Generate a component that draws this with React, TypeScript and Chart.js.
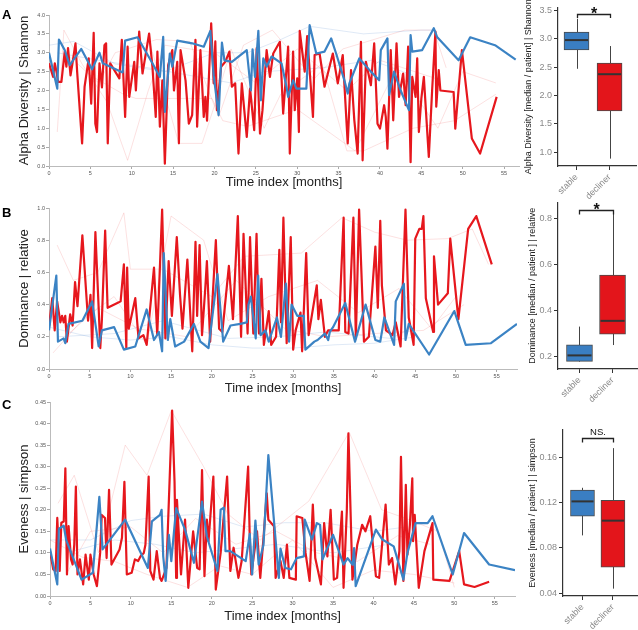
import React, { useEffect, useRef } from "react";
import { Chart, registerables } from "chart.js";

Chart.register(...registerables);
Chart.defaults.font.family = "'Liberation Sans', Arial, sans-serif";

type Pt = [number, number];

// ---------- tick labels ----------
const timeTicks = [0, 5, 10, 15, 20, 25, 30, 35, 40, 45, 50, 55];
const shannonTicks = [0, 0.5, 1, 1.5, 2, 2.5, 3, 3.5, 4];
const dominanceTicks = [0, 0.2, 0.4, 0.6, 0.8, 1.0];
const evenessTicks = [0, 0.05, 0.1, 0.15, 0.2, 0.25, 0.3, 0.35, 0.4, 0.45];
const groupLabels = ["stable", "decliner"];
const shannonBoxTicks = [1.0, 1.5, 2.0, 2.5, 3.0, 3.5];
const dominanceBoxTicks = [0.2, 0.4, 0.6, 0.8];
const evenessBoxTicks = [0.04, 0.08, 0.12, 0.16];

// ---------- A: Shannon ----------
const shannonStable: Pt[] = [[0,3.0],[1,2.05],[1.2,3.35],[1.9,3.07],[2.5,2.67],[3.9,3.1],[5.2,2.56],[6.1,3.0],[6.5,2.72],[8.9,2.48],[9.2,3.32],[10.7,3.41],[12.5,2.72],[13.4,2.36],[13.8,3.42],[14.0,1.43],[14.6,2.98],[14.9,2.63],[15.5,3.32],[17.3,3.25],[18.7,3.16],[19.5,3.58],[19.9,2.4],[20.5,1.35],[20.9,3.27],[21.2,2.8],[22.1,2.76],[23.9,3.07],[24.4,2.0],[24.6,3.09],[24.9,2.36],[25.3,3.58],[25.6,1.74],[25.9,2.85],[26.3,2.63],[26.9,2.9],[28.1,2.72],[28.7,2.1],[28.9,1.83],[29.5,2.27],[29.9,2.05],[31.1,2.05],[31.5,3.73],[32.3,2.98],[33.3,3.03],[34.1,3.38],[34.7,2.98],[35.7,2.27],[36.1,1.92],[36.3,2.19],[37.5,2.85],[38.9,2.5],[39.9,2.27],[40.1,3.07],[40.9,3.38],[41.1,1.88],[41.7,2.5],[42.5,2.0],[43.5,1.48],[43.7,3.47],[43.9,3.03],[45.1,3.07],[46.5,3.65],[46.9,3.42],[49.5,2.8],[50.9,3.41],[53.9,3.2],[56.4,2.82]];
const shannonDecliner: Pt[] = [[0,2.72],[0.5,2.36],[0.7,2.72],[0.9,2.5],[1.1,2.23],[1.5,2.23],[1.9,3.03],[2.1,2.63],[2.3,3.12],[2.6,2.4],[2.8,2.67],[3.2,3.25],[3.4,2.5],[4.0,0.6],[4.3,2.1],[4.8,2.85],[5.1,1.65],[5.4,3.53],[5.6,1.12],[5.8,0.9],[6.1,2.72],[6.3,2.3],[6.4,2.08],[6.7,3.2],[6.9,3.25],[7.1,0.6],[7.4,2.72],[8.5,2.32],[8.8,3.34],[9.2,1.3],[9.5,3.16],[9.7,1.83],[10.3,2.76],[10.5,2.0],[10.9,3.56],[11.3,2.45],[12.1,3.51],[12.5,2.63],[12.9,1.3],[13.1,3.03],[13.4,1.04],[13.7,2.27],[14.0,0.06],[14.4,2.67],[14.9,3.07],[15.1,2.0],[15.5,2.76],[15.7,0.6],[15.9,3.07],[16.5,2.27],[16.9,1.12],[17.3,1.35],[17.7,3.34],[17.9,1.04],[18.3,3.07],[18.7,1.3],[18.9,1.83],[19.1,1.2],[19.6,3.78],[19.9,2.19],[20.1,3.3],[20.3,1.48],[20.8,2.63],[21.3,2.76],[21.8,3.03],[22.1,2.1],[22.5,2.19],[22.9,0.33],[23.3,2.19],[23.9,0.77],[24.3,2.05],[24.8,0.95],[25.1,3.12],[25.5,0.86],[25.8,1.48],[26.3,3.07],[26.7,2.36],[27.1,2.98],[27.9,3.29],[28.3,1.39],[28.9,3.16],[29.1,0.33],[29.5,3.03],[29.7,1.48],[30.0,2.32],[30.2,0.9],[30.3,3.58],[30.9,2.5],[31.2,3.44],[31.7,1.92],[31.9,1.3],[32.1,2.94],[32.7,2.98],[33.3,2.1],[34.3,2.98],[34.9,2.19],[35.5,2.94],[36.1,0.6],[36.3,1.57],[36.5,2.54],[36.9,1.21],[37.3,0.33],[37.7,3.29],[37.9,0.15],[38.3,2.76],[38.9,2.14],[39.3,3.25],[39.7,1.12],[40.0,0.99],[40.5,1.61],[40.7,1.3],[40.9,0.46],[41.3,3.07],[41.6,1.21],[42.0,3.25],[42.3,1.83],[42.8,2.45],[43.1,1.61],[43.4,3.16],[43.7,0.1],[43.9,2.36],[44.3,1.83],[44.5,2.85],[44.7,0.9],[45.0,1.79],[45.3,2.36],[45.9,0.24],[46.3,2.0],[46.7,3.56],[46.8,1.57],[47.1,2.54],[47.3,2.0],[48.9,1.96],[49.1,0.99],[49.9,3.07],[51.1,0.73],[52.1,0.33],[54.1,1.83]];
const shannonFaintRed: Pt[][] = [
  [[1,0.9],[1.8,3.6],[4,2.7],[7,1.7],[9.5,0.15],[12,2.0],[14,3.2],[20,3.0],[25,2.2],[30,3.1],[36,2.0],[40,2.8],[47,2.3]],
  [[5,2.4],[9,1.9],[10.5,1.79],[19.7,1.79],[21,1.2],[24,1.05],[30,1.5],[37,0.4],[42,2.6],[47,1.0],[50,2.5],[54,2.2]],
  [[12,3.4],[15.7,0.6],[18.5,0.6],[20,1.6],[22,3.1],[26,1.0],[28,1.9],[33,2.7],[36,0.4],[38,0.4],[44,1.0],[49,1.2],[54,1.9]],
  [[2,3.0],[6,2.2],[8,3.0],[13,3.35],[17,3.3],[20.5,1.3],[23.5,3.2],[27,3.6],[32,2.3],[35.5,3.1],[43,3.6],[46.5,3.6],[48,2.6]],
];
const shannonFaintBlue: Pt[][] = [
  [[0,3.2],[3,3.3],[8,2.7],[14,2.5],[20,3.0],[24,3.0],[28,3.35],[31.5,3.7],[38,3.5],[45,3.6],[46.5,3.6]],
  [[1,3.0],[6,2.8],[12,2.6],[17,2.4],[22,2.2],[26,2.5],[33,2.6],[39,2.8],[44,2.4]],
];

// ---------- B: Dominance ----------
const dominanceStable: Pt[] = [[0,0.24],[0.9,0.58],[1.1,0.17],[1.8,0.19],[2.0,0.16],[2.4,0.28],[4.1,0.30],[5.3,0.42],[6.1,0.14],[6.5,0.24],[8.0,0.26],[9.2,0.12],[10.6,0.14],[12.0,0.37],[12.9,0.18],[13.5,0.23],[13.9,0.11],[14.1,0.72],[14.6,0.18],[14.9,0.31],[15.5,0.14],[16.6,0.17],[17.8,0.28],[18.6,0.17],[19.6,0.13],[20.7,0.59],[21.4,0.17],[22.3,0.27],[23.5,0.28],[24.3,0.29],[24.5,0.40],[24.8,0.45],[25.4,0.19],[25.7,0.58],[26.0,0.21],[26.6,0.24],[27.0,0.17],[28.0,0.32],[28.5,0.20],[29.1,0.53],[29.5,0.17],[29.8,0.40],[30.5,0.33],[31.3,0.33],[31.5,0.12],[32.6,0.17],[33.0,0.18],[33.9,0.22],[34.3,0.18],[34.5,0.23],[34.9,0.26],[36.4,0.41],[37.6,0.17],[38.9,0.40],[40.1,0.18],[40.7,0.17],[41.2,0.32],[42.4,0.15],[42.6,0.42],[43.6,0.53],[43.8,0.18],[44.2,0.28],[46.7,0.09],[49.8,0.36],[51.2,0.15],[54.3,0.16],[57.5,0.28]];
const dominanceDecliner: Pt[] = [[0,0.26],[0.4,0.44],[0.7,0.24],[1.0,0.42],[1.4,0.29],[1.6,0.33],[1.8,0.29],[2.0,0.33],[2.2,0.17],[2.6,0.34],[2.9,0.27],[3.2,0.54],[3.5,0.39],[4.1,0.83],[4.8,0.30],[5.1,0.46],[5.3,0.13],[5.7,0.85],[6.1,0.38],[6.3,0.13],[6.5,0.31],[6.9,0.86],[7.2,0.38],[8.4,0.41],[8.8,0.42],[9.2,0.65],[9.5,0.13],[9.6,0.63],[9.8,0.25],[10.6,0.44],[11.0,0.19],[11.6,0.21],[12.0,0.15],[12.9,0.63],[13.3,0.21],[13.9,0.99],[14.3,0.19],[14.7,0.67],[15.1,0.33],[15.7,0.82],[16.1,0.46],[16.4,0.25],[17.0,0.68],[17.6,0.11],[18.0,0.79],[18.2,0.33],[18.5,0.77],[18.8,0.21],[19.2,0.50],[19.4,0.67],[19.8,0.17],[20.5,0.80],[20.9,0.25],[21.3,0.23],[22.1,0.64],[22.6,0.31],[23.2,0.95],[23.6,0.20],[23.9,0.84],[24.4,0.22],[24.7,0.82],[25.1,0.22],[25.5,0.84],[25.8,0.22],[26.1,0.56],[26.4,0.15],[27.0,0.36],[27.3,0.15],[27.9,0.20],[28.3,0.74],[28.5,0.29],[28.8,0.94],[29.2,0.16],[29.7,0.82],[30.0,0.12],[30.3,0.24],[30.9,0.35],[31.1,0.11],[31.6,0.72],[31.9,0.21],[32.9,0.52],[33.1,0.31],[33.4,0.43],[33.9,0.20],[34.3,0.24],[35.6,0.24],[36.2,0.94],[36.4,0.23],[36.8,0.22],[37.4,0.94],[37.7,0.19],[38.1,0.99],[38.7,0.17],[39.3,0.20],[40.1,0.76],[40.4,0.38],[40.7,0.92],[40.9,0.52],[41.4,0.24],[42.2,0.21],[42.6,0.29],[43.2,0.14],[43.8,0.99],[44.2,0.32],[44.8,0.15],[45.0,0.81],[45.5,0.87],[45.8,0.87],[46.0,0.95],[46.3,0.44],[47.2,0.23],[47.3,0.70],[47.8,0.40],[49.0,0.47],[49.3,0.81],[50.3,0.31],[51.5,0.87],[52.5,0.95],[54.4,0.65]];
const dominanceFaintRed: Pt[][] = [
  [[1,0.77],[3,0.55],[6,0.6],[9.2,0.97],[10,0.62],[14,0.62],[20,0.45],[24,0.7],[31,0.72],[36,0.94],[40,0.85],[44,0.8],[49,0.81],[52,0.87],[54,0.65]],
  [[0.5,0.1],[4,0.3],[8,0.45],[12,0.15],[15,0.95],[19,0.8],[22,0.3],[27,0.45],[33,0.55],[38,0.35],[43,0.5],[47,0.25],[50,0.45]],
  [[2,0.2],[6,0.38],[11,0.25],[17,0.2],[23,0.55],[29,0.25],[34,0.2],[40,0.22],[46,0.24],[51,0.4]],
];
const dominanceFaintBlue: Pt[][] = [
  [[0,0.26],[5,0.2],[10,0.18],[15,0.2],[20,0.15],[25,0.13],[30,0.13],[35,0.15],[40,0.16],[45,0.2]],
  [[1,0.2],[8,0.22],[14,0.3],[22,0.19],[28,0.2],[34,0.23],[42,0.19],[44,0.24]],
];

// ---------- C: Eveness ----------
const evenessStable: Pt[] = [[0,0.11],[0.9,0.027],[1.1,0.156],[1.7,0.163],[2.0,0.13],[3.9,0.038],[5.3,0.054],[6.1,0.23],[6.5,0.108],[9.3,0.177],[12.1,0.065],[12.6,0.173],[13.6,0.188],[13.8,0.2],[14.0,0.092],[14.3,0.035],[14.7,0.142],[15.0,0.081],[15.6,0.204],[16.7,0.154],[17.8,0.077],[18.8,0.219],[19.4,0.138],[20.7,0.058],[21.1,0.2],[21.5,0.205],[21.7,0.104],[22.3,0.104],[24.2,0.081],[24.7,0.144],[25.0,0.05],[25.4,0.175],[25.8,0.073],[26.4,0.119],[27.0,0.327],[28.3,0.042],[28.5,0.11],[29.1,0.065],[29.8,0.062],[30.5,0.088],[31.4,0.092],[31.5,0.177],[32.4,0.131],[33.0,0.169],[33.4,0.165],[33.7,0.085],[35.0,0.142],[36.3,0.073],[36.8,0.088],[37.4,0.073],[37.6,0.111],[37.8,0.023],[40.3,0.154],[41.1,0.131],[42.5,0.115],[43.7,0.038],[44.2,0.1],[45.2,0.169],[46.7,0.169],[47.3,0.185],[49.8,0.05],[51.2,0.146],[54.3,0.073],[57.5,0.06]];
const evenessDecliner: Pt[] = [[0,0.104],[0.4,0.062],[0.7,0.058],[0.9,0.181],[1.2,0.058],[1.4,0.17],[1.7,0.173],[1.9,0.296],[2.1,0.05],[2.3,0.162],[2.6,0.085],[2.8,0.073],[3.0,0.119],[3.2,0.254],[3.4,0.05],[3.7,0.085],[4.1,0.027],[4.4,0.096],[4.8,0.038],[5.0,0.096],[5.4,0.05],[5.8,0.023],[6.2,0.1],[6.4,0.188],[6.8,0.181],[7.0,0.088],[7.3,0.246],[7.6,0.073],[8.6,0.108],[8.9,0.135],[9.2,0.265],[9.5,0.05],[10.1,0.054],[10.5,0.085],[10.9,0.081],[11.2,0.092],[11.6,0.1],[11.8,0.119],[12.2,0.277],[12.4,0.058],[12.8,0.038],[13.2,0.104],[13.6,0.042],[13.8,0.035],[14.4,0.065],[15.1,0.43],[15.4,0.265],[15.6,0.042],[15.7,0.223],[16.2,0.05],[16.7,0.177],[17.1,0.019],[17.7,0.15],[18.2,0.065],[18.5,0.062],[18.8,0.292],[19.1,0.046],[19.4,0.177],[19.6,0.127],[20.2,0.277],[20.5,0.015],[21.1,0.1],[21.9,0.277],[22.3,0.058],[22.7,0.112],[23.3,0.042],[23.7,0.081],[24.5,0.3],[24.7,0.135],[24.9,0.05],[25.6,0.15],[26.0,0.042],[26.4,0.135],[26.8,0.238],[27.0,0.177],[27.7,0.162],[27.9,0.042],[28.5,0.081],[28.9,0.042],[29.3,0.119],[29.6,0.042],[30.4,0.038],[30.5,0.185],[31.2,0.181],[31.6,0.1],[32.1,0.035],[32.5,0.212],[32.8,0.088],[33.5,0.027],[33.9,0.169],[34.3,0.092],[34.7,0.2],[35.1,0.038],[35.5,0.042],[36.1,0.196],[36.3,0.019],[36.7,0.196],[36.9,0.377],[37.4,0.038],[38.0,0.119],[38.6,0.165],[39.0,0.15],[39.6,0.185],[39.9,0.123],[40.3,0.046],[40.7,0.042],[41.5,0.212],[41.9,0.073],[42.3,0.088],[42.7,0.027],[43.2,0.104],[43.4,0.323],[43.7,0.035],[44.0,0.258],[44.2,0.096],[44.5,0.165],[44.8,0.273],[44.9,0.127],[45.1,0.188],[45.6,0.019],[46.3,0.104],[47.3,0.169],[47.4,0.038],[49.4,0.035],[50.6,0.104],[51.2,0.027],[52.5,0.021],[54.3,0.033]];
const evenessFaintRed: Pt[][] = [
  [[1,0.215],[3,0.28],[6,0.1],[9.3,0.35],[12,0.28],[15,0.43],[19,0.3],[22,0.19],[26,0.13],[32,0.22],[37,0.38],[41,0.2],[44,0.18],[48,0.15],[50,0.02]],
  [[0,0.13],[4,0.09],[8,0.08],[12,0.05],[17,0.02],[21,0.07],[25,0.05],[30,0.13],[35,0.02],[40,0.06],[45,0.05],[50,0.03]],
  [[2,0.05],[5,0.15],[10,0.16],[14,0.1],[18,0.18],[23,0.12],[28,0.15],[33,0.1],[38,0.08],[43,0.14],[47,0.12]],
];
const evenessFaintBlue: Pt[][] = [
  [[0,0.13],[5,0.13],[10,0.175],[14,0.185],[19,0.19],[24,0.16],[29,0.17],[34,0.17],[40,0.15],[44,0.16]],
  [[2,0.1],[8,0.13],[13,0.12],[18,0.1],[23,0.11],[28,0.12],[35,0.1],[42,0.12]],
];

// ---------- box stats: [low whisker, Q1, median, Q3, high whisker] ----------
const shannonBoxStable = [2.47, 2.8, 2.975, 3.115, 3.35];
const shannonBoxDecliner = [0.89, 1.73, 2.375, 2.57, 2.87];
const dominanceBoxStable = [0.178, 0.179, 0.205, 0.251, 0.33];
const dominanceBoxDecliner = [0.25, 0.297, 0.355, 0.554, 0.835];
const evenessBoxStable = [0.091, 0.108, 0.121, 0.131, 0.133];
const evenessBoxDecliner = [0.044, 0.063, 0.104, 0.122, 0.168];

const BLUE = "#3b83c4";
const RED = "#e6171d";
const FAINT_RED = "rgba(235,80,80,0.22)";
const FAINT_BLUE = "rgba(70,130,200,0.22)";
const BOX_BLUE = "#3a7ec2";
const BOX_RED = "#e3151b";

function makeLineConfig(s: any) {
  const xy = (a: Pt[]) => a.map(([x, y]) => ({ x, y }));
  const datasets: any[] = [
    { data: xy(s.stable), borderColor: BLUE, borderWidth: 2.2 },
    { data: xy(s.decliner), borderColor: RED, borderWidth: 2.2 },
    ...s.faintBlue.map((d: Pt[]) => ({ data: xy(d), borderColor: FAINT_BLUE, borderWidth: 0.8 })),
    ...s.faintRed.map((d: Pt[]) => ({ data: xy(d), borderColor: FAINT_RED, borderWidth: 0.8 })),
  ];
  const grid = { drawOnChartArea: false, tickLength: 3, color: "#aaa" };
  return {
    type: "line",
    data: { datasets },
    options: {
      animation: false,
      responsive: false,
      devicePixelRatio: 1,
      layout: { padding: { top: s.padTop, right: s.padRight, left: 0, bottom: 0 } },
      elements: { point: { radius: 0 }, line: { tension: 0, borderJoinStyle: "round" } },
      plugins: { legend: { display: false }, tooltip: { enabled: false } },
      scales: {
        x: {
          type: "linear",
          min: 0,
          max: s.xMax,
          afterBuildTicks: (sc: any) => { sc.ticks = timeTicks.map((v) => ({ value: v })); },
          afterFit: (sc: any) => { sc.height = s.xHeight; },
          grid,
          border: { color: "#bbb" },
          ticks: { font: { size: 5.5 }, color: "#555", padding: 1, maxRotation: 0, autoSkip: false, callback: (v: any) => String(v) },
          title: { display: true, text: "Time index [months]", font: { size: 13 }, color: "#222", padding: { top: 0, bottom: s.xTitlePad } },
        },
        y: {
          type: "linear",
          min: s.yTicks[0],
          max: s.yTicks[s.yTicks.length - 1],
          afterBuildTicks: (sc: any) => { sc.ticks = s.yTicks.map((v: number) => ({ value: v })); },
          afterFit: (sc: any) => { sc.width = s.yWidth; },
          grid,
          border: { color: "#bbb" },
          ticks: { font: { size: 5.5 }, color: "#555", padding: 1, autoSkip: false, callback: (v: any) => Number(v).toFixed(s.decimals) },
          title: { display: true, text: s.yTitle, font: { size: 13 }, color: "#222", padding: { top: 17, bottom: 0 } },
        },
      },
    },
  };
}

function makeBoxPlugin(stats: number[][], w: number, bracket: number[], label: string, star: boolean) {
  return {
    id: "boxExtras",
    beforeDatasetsDraw(chart: any) {
      const { ctx, scales } = chart;
      const { x, y } = scales;
      ctx.save();
      ctx.strokeStyle = "#444";
      ctx.lineWidth = 1;
      stats.forEach((s, i) => {
        const px = Math.round(x.getPixelForValue(i + 1)) + 0.5;
        ctx.beginPath();
        ctx.moveTo(px, y.getPixelForValue(s[0]));
        ctx.lineTo(px, y.getPixelForValue(s[4]));
        ctx.stroke();
      });
      ctx.restore();
    },
    afterDatasetsDraw(chart: any) {
      const { ctx, scales } = chart;
      const { x, y } = scales;
      ctx.save();
      ctx.strokeStyle = "#333";
      ctx.lineWidth = 2;
      stats.forEach((s, i) => {
        const px = x.getPixelForValue(i + 1);
        const py = y.getPixelForValue(s[2]);
        ctx.beginPath();
        ctx.moveTo(px - w / 2 + 1, py);
        ctx.lineTo(px + w / 2 - 1, py);
        ctx.stroke();
      });
      const x1 = Math.round(x.getPixelForValue(1)) + 0.5;
      const x2 = Math.round(x.getPixelForValue(2)) + 0.5;
      const yt = Math.round(y.getPixelForValue(bracket[0])) + 0.5;
      const yl = y.getPixelForValue(bracket[1]);
      ctx.strokeStyle = "#222";
      ctx.lineWidth = 1.3;
      ctx.beginPath();
      ctx.moveTo(x1, yl);
      ctx.lineTo(x1, yt);
      ctx.lineTo(x2, yt);
      ctx.lineTo(x2, yl);
      ctx.stroke();
      ctx.fillStyle = "#111";
      ctx.textAlign = "center";
      ctx.textBaseline = "alphabetic";
      if (star) {
        ctx.font = "bold 16px 'Liberation Sans', Arial, sans-serif";
        ctx.fillText(label, (x1 + x2) / 2, yt + 4);
      } else {
        ctx.font = "9.5px 'Liberation Sans', Arial, sans-serif";
        ctx.fillText(label, (x1 + x2) / 2, yt - 3.5);
      }
      ctx.restore();
    },
  };
}

function makeBoxConfig(b: any) {
  const stats = [b.stable, b.decliner];
  const grid = { drawOnChartArea: false, tickLength: 4, color: "#333", offset: false };
  return {
    type: "bar",
    data: {
      datasets: [
        {
          data: stats.map((s: number[], i: number) => ({ x: i + 1, y: [s[1], s[3]] })),
          backgroundColor: [BOX_BLUE, BOX_RED],
          borderColor: "#4a4a4a",
          borderWidth: 1,
          borderSkipped: false,
          barThickness: b.boxWidth,
        },
      ],
    },
    options: {
      animation: false,
      responsive: false,
      devicePixelRatio: 1,
      layout: { padding: { top: b.padTop, right: b.padRight, left: 0, bottom: 0 } },
      plugins: { legend: { display: false }, tooltip: { enabled: false } },
      scales: {
        x: {
          type: "linear",
          min: b.xMin,
          max: b.xMax,
          offset: false,
          afterBuildTicks: (sc: any) => { sc.ticks = [{ value: 1 }, { value: 2 }]; },
          afterFit: (sc: any) => { sc.height = b.xHeight; },
          grid,
          border: { color: "#333", width: 1.2 },
          ticks: { font: { size: 9 }, color: "#888", minRotation: 45, maxRotation: 45, padding: 2, autoSkip: false, callback: (v: any) => groupLabels[Math.round(v) - 1] || "" },
        },
        y: {
          type: "linear",
          min: b.yMin,
          max: b.yMax,
          afterBuildTicks: (sc: any) => { sc.ticks = b.yTicks.map((v: number) => ({ value: v })); },
          afterFit: (sc: any) => { sc.width = b.yWidth; },
          grid,
          border: { color: "#333", width: 1.2 },
          ticks: { font: { size: 9 }, color: "#888", padding: 2, autoSkip: false, callback: (v: any) => Number(v).toFixed(b.decimals) },
          title: { display: true, text: b.yTitle, font: { size: 9 }, color: "#222", padding: { top: b.titlePad, bottom: 0 } },
        },
      },
    },
    plugins: [makeBoxPlugin(stats, b.boxWidth, b.bracket, b.label, b.star)],
  };
}

function ChartCanvas({ make, left, top, width, height }: any) {
  const ref = useRef<HTMLCanvasElement | null>(null);
  useEffect(() => {
    const chart = new Chart(ref.current as HTMLCanvasElement, make() as any);
    return () => chart.destroy();
  }, []);
  return (
    <canvas
      ref={ref}
      width={width}
      height={height}
      style={{ position: "absolute", left, top, width, height }}
    />
  );
}

const letterStyle: any = {
  position: "absolute",
  left: 2,
  fontFamily: "'Liberation Sans', Arial, sans-serif",
  fontWeight: "bold",
  fontSize: 13,
  lineHeight: "13px",
  color: "#000",
};

export default function App() {
  return (
    <div style={{ position: "fixed", left: 0, top: 0, width: 638, height: 630, background: "#fff", overflow: "hidden" }}>
      <ChartCanvas left={0} top={0} width={525} height={195} make={() => makeLineConfig({
        stable: shannonStable, decliner: shannonDecliner, faintRed: shannonFaintRed, faintBlue: shannonFaintBlue,
        yTicks: shannonTicks, decimals: 1, xMax: 56.8, yTitle: "Alpha Diversity | Shannon",
        padTop: 15, padRight: 6, yWidth: 49, xHeight: 29, xTitlePad: 4.6,
      })} />
      <ChartCanvas left={0} top={195} width={525} height={203} make={() => makeLineConfig({
        stable: dominanceStable, decliner: dominanceDecliner, faintRed: dominanceFaintRed, faintBlue: dominanceFaintBlue,
        yTicks: dominanceTicks, decimals: 1, xMax: 57.5, yTitle: "Dominance | relative",
        padTop: 13, padRight: 8, yWidth: 49, xHeight: 29, xTitlePad: 1.6,
      })} />
      <ChartCanvas left={0} top={395} width={525} height={235} make={() => makeLineConfig({
        stable: evenessStable, decliner: evenessDecliner, faintRed: evenessFaintRed, faintBlue: evenessFaintBlue,
        yTicks: evenessTicks, decimals: 2, xMax: 57.5, yTitle: "Eveness | simpson",
        padTop: 7, padRight: 10, yWidth: 50, xHeight: 34, xTitlePad: 5.9,
      })} />

      <ChartCanvas left={510} top={0} width={128} height={200} make={() => makeBoxConfig({
        stable: shannonBoxStable, decliner: shannonBoxDecliner, yTicks: shannonBoxTicks, decimals: 1,
        yMin: 0.76, yMax: 3.55, xMin: 0.44, xMax: 2.8, boxWidth: 25,
        padTop: 6, padRight: 2, yWidth: 48, xHeight: 34, titlePad: 13.6,
        yTitle: "Alpha Diversity [median / patient] | Shannon", bracket: [3.435, 3.365], label: "*", star: true,
      })} />
      <ChartCanvas left={510} top={195} width={128} height={210} make={() => makeBoxConfig({
        stable: dominanceBoxStable, decliner: dominanceBoxDecliner, yTicks: dominanceBoxTicks, decimals: 1,
        yMin: 0.146, yMax: 0.869, xMin: 0.35, xMax: 2.74, boxWidth: 26,
        padTop: 7, padRight: 1, yWidth: 48, xHeight: 36, titlePad: 17.6,
        yTitle: "Dominance [median / patient ] | relative", bracket: [0.838, 0.817], label: "*", star: true,
      })} />
      <ChartCanvas left={510} top={405} width={128} height={225} make={() => makeBoxConfig({
        stable: evenessBoxStable, decliner: evenessBoxDecliner, yTicks: evenessBoxTicks, decimals: 2,
        yMin: 0.0375, yMax: 0.184, xMin: 0.36, xMax: 2.79, boxWidth: 24,
        padTop: 25, padRight: 1, yWidth: 53, xHeight: 34, titlePad: 17.6,
        yTitle: "Eveness [median / patient ] | simpson", bracket: [0.177, 0.173], label: "NS.", star: false,
      })} />

      <div style={{ ...letterStyle, top: 8 }}>A</div>
      <div style={{ ...letterStyle, top: 206 }}>B</div>
      <div style={{ ...letterStyle, top: 398 }}>C</div>
    </div>
  );
}
